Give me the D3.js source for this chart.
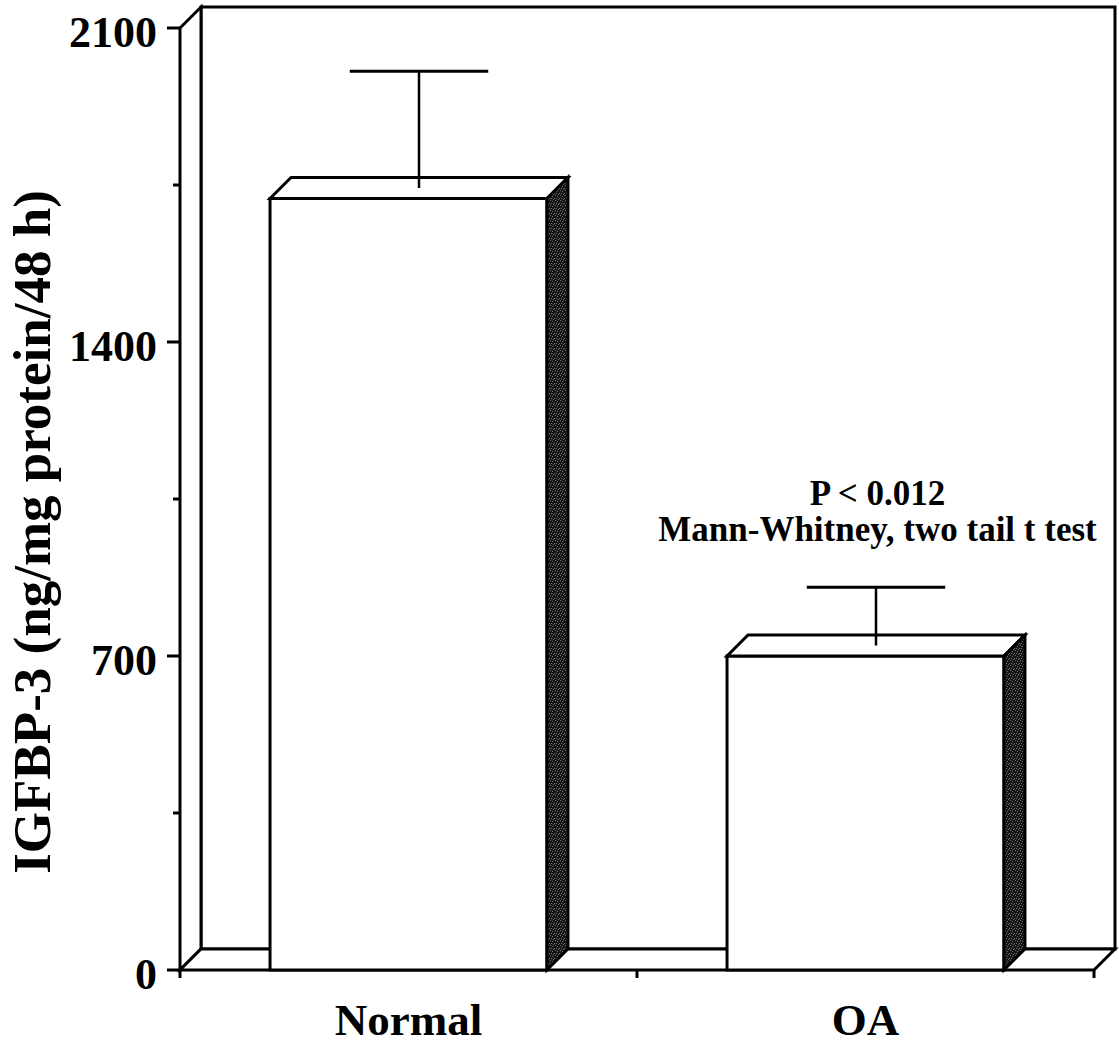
<!DOCTYPE html>
<html>
<head>
<meta charset="utf-8">
<script src="https://cdn.jsdelivr.net/npm/d3@7/dist/d3.min.js"></script>
<style>
  html, body { margin: 0; padding: 0; background: #fff; }
  svg { display: block; }
  text { font-family: "Liberation Serif", "Times New Roman", serif; font-weight: bold; fill: #000; }
</style>
</head>
<body>
<svg id="chart" width="1119" height="1045"></svg>
<script>
// IGFBP-3 secretion, normal vs OA (mean with upper error bar)
const categories = ["Normal", "OA"];
const means = [1720, 700];
const upperErrors = [1980, 830];
const yTicks = [0, 700, 1400, 2100];
const yMinorTicks = [350, 1050, 1750];
const yLabel = "IGFBP-3 (ng/mg protein/48 h)";
const noteLines = ["P < 0.012", "Mann-Whitney, two tail t test"];

(function drawChart() {
  const svg = d3.select("#chart");

  // stippled dark fill for the bar side faces
  const defs = svg.append("defs");
  const pat = defs.append("pattern")
    .attr("id", "stipple").attr("patternUnits", "userSpaceOnUse")
    .attr("width", 5).attr("height", 5);
  pat.append("rect").attr("width", 5).attr("height", 5).attr("fill", "#151515");
  [[0, 0], [2, 1], [4, 3], [1, 3], [3, 4]].forEach(([px, py]) => {
    pat.append("rect").attr("x", px).attr("y", py).attr("width", 1).attr("height", 1).attr("fill", "#6e6e6e");
  });

  // plot frame (front plane) and 3-D depth offset
  const pLeft = 180, pRight = 1094, pTop = 28, pBottom = 970;
  const depth = 21;

  const y = d3.scaleLinear().domain([0, 2100]).range([pBottom, pTop]);
  const x = d3.scaleBand().domain(categories).range([pLeft, pRight])
    .paddingInner(0.394).paddingOuter(0.197);

  const stroke = "#000";
  const sw = 3;

  const g = svg.append("g");

  // back wall
  g.append("rect")
    .attr("x", pLeft + depth).attr("y", pTop - depth)
    .attr("width", pRight - pLeft).attr("height", pBottom - pTop)
    .attr("fill", "#fff").attr("stroke", stroke).attr("stroke-width", sw);

  // left side wall
  g.append("path")
    .attr("d", `M${pLeft},${pBottom} L${pLeft},${pTop} L${pLeft + depth},${pTop - depth} L${pLeft + depth},${pBottom - depth} Z`)
    .attr("fill", "#fff").attr("stroke", stroke).attr("stroke-width", sw);

  // floor
  g.append("path")
    .attr("d", `M${pLeft},${pBottom} L${pRight},${pBottom} L${pRight + depth},${pBottom - depth} L${pLeft + depth},${pBottom - depth} Z`)
    .attr("fill", "#fff").attr("stroke", stroke).attr("stroke-width", sw);

  // bars: front face, top face, shaded side face
  const bars = g.selectAll("g.bar")
    .data(categories.map((c, i) => ({ c, v: means[i], u: upperErrors[i] })))
    .enter().append("g").attr("class", "bar");

  bars.append("rect")
    .attr("x", d => x(d.c)).attr("y", d => y(d.v))
    .attr("width", x.bandwidth()).attr("height", d => pBottom - y(d.v))
    .attr("fill", "#fff").attr("stroke", stroke).attr("stroke-width", sw);

  bars.append("path")
    .attr("d", d => {
      const x0 = x(d.c), x1 = x0 + x.bandwidth(), yv = y(d.v);
      return `M${x0},${yv} L${x0 + depth},${yv - depth} L${x1 + depth},${yv - depth} L${x1},${yv} Z`;
    })
    .attr("fill", "#fff").attr("stroke", stroke).attr("stroke-width", sw);

  bars.append("path")
    .attr("d", d => {
      const x1 = x(d.c) + x.bandwidth(), yv = y(d.v);
      return `M${x1},${yv} L${x1 + depth},${yv - depth} L${x1 + depth},${pBottom - depth} L${x1},${pBottom} Z`;
    })
    .attr("fill", "url(#stipple)").attr("stroke", stroke).attr("stroke-width", sw);

  // error bars drawn at mid-depth of each bar
  const half = depth / 2;
  bars.append("line")
    .attr("x1", d => x(d.c) + x.bandwidth() / 2 + half)
    .attr("x2", d => x(d.c) + x.bandwidth() / 2 + half)
    .attr("y1", d => y(d.v) - half)
    .attr("y2", d => y(d.u) - half)
    .attr("stroke", stroke).attr("stroke-width", 2.5);
  bars.append("line")
    .attr("x1", d => x(d.c) + x.bandwidth() / 4 + half)
    .attr("x2", d => x(d.c) + 3 * x.bandwidth() / 4 + half)
    .attr("y1", d => y(d.u) - half)
    .attr("y2", d => y(d.u) - half)
    .attr("stroke", stroke).attr("stroke-width", 3);

  // y axis ticks and labels
  g.selectAll("line.ymaj").data(yTicks).enter().append("line")
    .attr("x1", pLeft - 13).attr("x2", pLeft)
    .attr("y1", d => y(d)).attr("y2", d => y(d))
    .attr("stroke", stroke).attr("stroke-width", sw);
  g.selectAll("line.ymin").data(yMinorTicks).enter().append("line")
    .attr("x1", pLeft - 7).attr("x2", pLeft)
    .attr("y1", d => y(d)).attr("y2", d => y(d))
    .attr("stroke", stroke).attr("stroke-width", sw);
  g.selectAll("text.ylab").data(yTicks).enter().append("text")
    .attr("x", pLeft - 23).attr("y", d => y(d) + 19)
    .attr("text-anchor", "end")
    .attr("font-size", 44)
    .text(d => d);

  // x axis ticks at category boundaries
  const xTickPos = [pLeft, pLeft + x.step(), pRight];
  g.selectAll("line.xt").data(xTickPos).enter().append("line")
    .attr("x1", d => d).attr("x2", d => d)
    .attr("y1", pBottom).attr("y2", pBottom + 8)
    .attr("stroke", stroke).attr("stroke-width", sw);

  // category labels
  g.selectAll("text.xlab").data(categories).enter().append("text")
    .attr("x", d => x(d) + x.bandwidth() / 2)
    .attr("y", 1035)
    .attr("text-anchor", "middle")
    .attr("font-size", 45)
    .text(d => d);

  // y axis title
  g.append("text")
    .attr("transform", "translate(50,532) rotate(-90)")
    .attr("text-anchor", "middle")
    .attr("font-size", 53)
    .text(yLabel);

  // significance note above the OA bar
  const noteX = x("OA") + x.bandwidth() / 2 + 12;
  g.selectAll("text.note").data(noteLines).enter().append("text")
    .attr("x", noteX)
    .attr("y", (d, i) => 505 + i * 36)
    .attr("text-anchor", "middle")
    .attr("font-size", 35)
    .text(d => d);
})();
</script>
</body>
</html>
